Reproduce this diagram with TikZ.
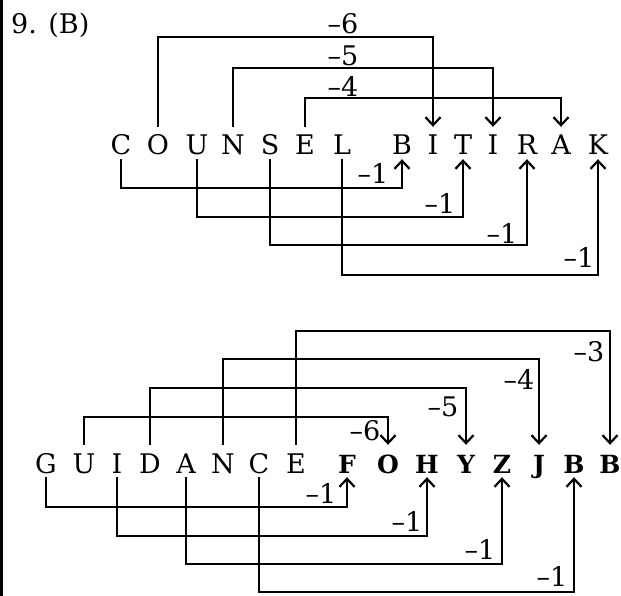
\documentclass[tikz,border=0pt]{standalone}
\usepackage{fontspec}
\newfontfamily\dvserif{DejaVu Serif}
\usetikzlibrary{arrows.meta}
\begin{document}
\begin{tikzpicture}[x=1pt,y=-1pt,
  every node/.style={font=\dvserif\fontsize{27}{30}\selectfont, inner sep=0pt},
  ltr/.style={anchor=base, text height=28pt, text depth=4pt},
  bltr/.style={ltr, font=\dvserif\bfseries\fontsize{25}{30}\selectfont},
  lbl/.style={anchor=center, text height=19.5pt, text depth=0pt},
  conn/.style={line width=2.2pt, -{Straight Barb[length=8pt,width=15pt,line width=2.2pt]}}]
\useasboundingbox (0,0) rectangle (621,596);
\draw[line width=3pt] (1.5,0) -- (1.5,596);
\node[anchor=base west] (title) at (11,34) {9. (B)};
% top word
\foreach \n/\t/\x in {tC/C/121, tO/O/158, tU/U/197, tN/N/233, tS/S/270, tE/E/305, tL/L/342,
  tB/B/402, tI/I/433, tT/T/463, tIi/I/493, tR/R/527, tA/A/561, tK/K/598}
  \node[ltr] (\n) at (\x,155) {\t};
\draw[conn] (tO.north) -- ++(0,-90) -| (tI.north);
\draw[conn] (tN.north) -- ++(0,-59) -| (tIi.north);
\draw[conn] (tE.north) -- ++(0,-29) -| (tA.north);
\draw[conn] (tC.south) -- ++(0,29) -| (tB.south);
\draw[conn] (tU.south) -- ++(0,58) -| (tT.south);
\draw[conn] (tS.south) -- ++(0,86) -| (tR.south);
\draw[conn] (tL.south) -- ++(0,116) -| (tK.south);
\node[lbl] (l6) at (343,24) {–6};
\node[lbl] (l5) at (343,56) {–5};
\node[lbl] (l4) at (343,87) {–4};
\node[lbl] (la) at (373,174) {–1};
\node[lbl] (lb) at (440,204) {–1};
\node[lbl] (lc) at (502,234) {–1};
\node[lbl] (ld) at (579,258) {–1};
% bottom word
\foreach \n/\t/\x in {gG/G/46, gU/U/84, gI/I/117, gD/D/150, gA/A/186, gN/N/223, gC/C/259, gE/E/296}
  \node[ltr] (\n) at (\x,473) {\t};
\foreach \n/\t/\x in {bF/F/347, bO/O/388, bH/H/427, bY/Y/466, bZ/Z/502, bJ/J/539, bB/B/574, bBb/B/610}
  \node[bltr] (\n) at (\x,473) {\t};
\draw[conn] (gU.north) -- ++(0,-28) -| (bO.north);
\draw[conn] (gD.north) -- ++(0,-57) -| (bY.north);
\draw[conn] (gN.north) -- ++(0,-86) -| (bJ.north);
\draw[conn] (gE.north) -- ++(0,-114) -| (bBb.north);
\draw[conn] (gG.south) -- ++(0,30) -| (bF.south);
\draw[conn] (gI.south) -- ++(0,59) -| (bH.south);
\draw[conn] (gA.south) -- ++(0,87) -| (bZ.south);
\draw[conn] (gC.south) -- ++(0,115) -| (bB.south);
\node[lbl] (m3) at (589,352) {–3};
\node[lbl] (m4) at (519,380) {–4};
\node[lbl] (m5) at (443,407) {–5};
\node[lbl] (m6) at (365,431) {–6};
\node[lbl] (ma) at (321,494) {–1};
\node[lbl] (mb) at (407,522) {–1};
\node[lbl] (mc) at (480,550) {–1};
\node[lbl] (md) at (552,577) {–1};
\end{tikzpicture}
\end{document}
